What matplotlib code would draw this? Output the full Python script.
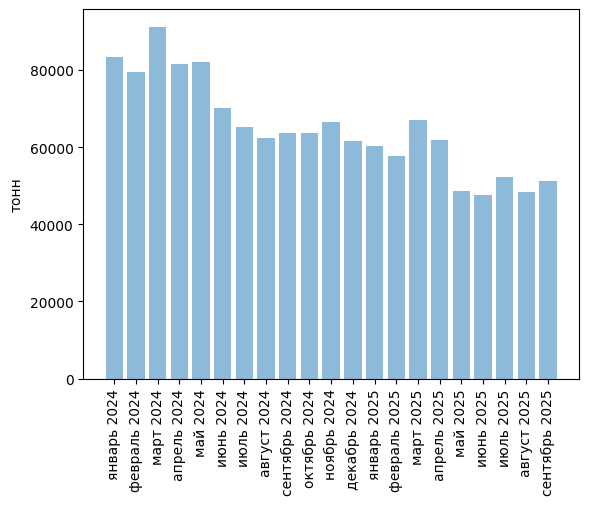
import matplotlib
matplotlib.use('Agg')
import matplotlib.pyplot as plt

months = ['январь 2024', 'февраль 2024', 'март 2024', 'апрель 2024', 'май 2024',
          'июнь 2024', 'июль 2024', 'август 2024', 'сентябрь 2024', 'октябрь 2024',
          'ноябрь 2024', 'декабрь 2024', 'январь 2025', 'февраль 2025', 'март 2025',
          'апрель 2025', 'май 2025', 'июнь 2025', 'июль 2025', 'август 2025',
          'сентябрь 2025']
tonnes = [83400, 79500, 91200, 81600, 82100, 70100, 65200, 62300, 63600, 63600,
          66500, 61500, 60200, 57600, 67000, 61800, 48500, 47500, 52200, 48300,
          51100]

fig, ax = plt.subplots()
ax.bar(months, tonnes, alpha=0.5)
ax.set_ylabel('тонн')
plt.xticks(rotation=90)
plt.savefig('out.png', dpi=100, bbox_inches='tight')
